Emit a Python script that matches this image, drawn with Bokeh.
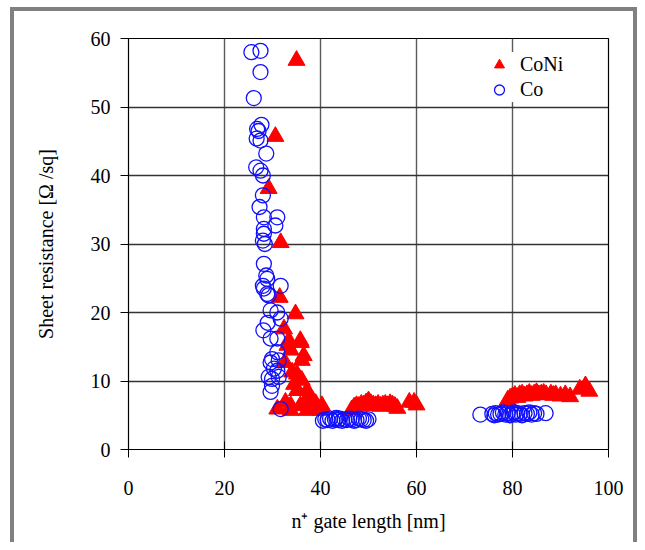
from bokeh.plotting import figure
from bokeh.models import ColumnDataSource, Legend, LegendItem, FixedTicker
from bokeh.embed import file_html
from bokeh.resources import INLINE

# CoNi (red filled triangles)
coni_x = [35.0, 30.6, 29.2, 31.7, 31.5, 34.8, 32.4, 33.4, 35.8, 33.8, 36.5, 32.6, 36.1,
          34.1, 35.1, 36.1, 37.2, 35.1, 37.9, 32.7, 33.8, 35.8, 39.0, 40.3, 31.0, 33.8,
          37.2, 40.0, 33.1, 35.9, 38.5, 34.5, 36.8,
          46.5, 47.0, 47.5, 48.0, 48.5, 49.0, 49.5, 50.0, 50.5, 51.0, 51.5, 52.0, 52.5,
          53.0, 53.5, 54.0, 54.5, 55.0, 55.5, 56.0, 58.5, 59.5, 60.0,
          79.0, 79.5, 80.0, 80.5, 81.0, 81.5, 82.0, 82.5, 83.0, 83.5, 84.0, 84.5, 85.0,
          85.5, 86.0, 86.5, 87.0, 88.0, 88.5, 89.0, 90.0, 91.0, 92.0, 94.0, 95.2, 96.0]
coni_y = [56.8, 45.7, 38.1, 30.2, 22.2, 19.8, 17.6, 15.9, 15.9, 14.5, 13.7, 12.7, 13.0,
          11.3, 11.0, 10.1, 8.6, 8.6, 7.6, 6.9, 6.4, 6.4, 6.7, 6.4, 5.9, 5.7,
          5.7, 5.7, 15.2, 15.6, 6.0, 9.5, 7.0,
          5.8, 6.2, 6.4, 6.3, 6.6, 6.5, 6.8, 7.1, 6.7, 6.5, 6.4, 6.6, 6.3,
          6.5, 6.6, 6.4, 6.7, 6.5, 6.3, 6.0, 6.9, 6.9, 6.5,
          7.2, 7.5, 7.7, 7.9, 7.6, 8.0, 8.1, 7.8, 8.0, 8.2, 7.9, 8.1, 8.3,
          8.0, 8.1, 8.2, 8.0, 8.1, 7.9, 8.0, 7.8, 8.0, 7.7, 8.8, 9.3, 8.5]

# Co (blue open circles)
co_x = [25.6, 27.5, 27.5, 26.1, 27.7, 26.8, 27.1, 26.7, 27.5, 28.7, 26.6, 27.5,
        28.0, 28.0, 27.3, 28.2, 31.0, 30.6, 28.2, 28.2, 28.0, 28.4, 28.2, 28.7,
        28.9, 28.0, 28.2, 31.7, 28.9, 29.2, 29.6, 31.0, 31.7, 29.6, 31.0, 31.0,
        29.9, 29.6, 31.3, 30.3, 31.0, 29.2, 29.9, 31.3, 29.9, 29.6, 31.7, 28.1, 29.0,
        40.5, 41.0, 41.5, 42.0, 42.5, 43.0, 43.3, 43.7, 44.0, 44.5, 45.0, 45.5, 46.0,
        46.5, 47.0, 47.5, 48.0, 48.5, 49.0, 49.5, 50.0,
        73.3, 75.8, 76.2, 76.5, 77.0, 77.5, 78.0, 78.5, 79.0, 79.5, 80.0, 80.3, 80.7,
        81.0, 81.5, 82.0, 82.5, 83.0, 83.5, 84.0, 84.5, 85.0, 86.9]
co_y = [58.0, 58.2, 55.1, 51.3, 47.4, 46.8, 46.5, 45.4, 45.1, 43.2, 41.2, 40.7,
        40.0, 37.1, 35.4, 33.9, 33.9, 32.7, 32.2, 31.5, 30.5, 30.0, 27.1, 25.4,
        24.9, 23.9, 23.5, 23.9, 22.7, 22.5, 20.3, 20.0, 19.1, 16.2, 16.2, 14.2,
        13.2, 12.7, 13.0, 11.8, 11.5, 10.6, 10.3, 10.6, 9.3, 8.4, 5.9, 17.4, 18.5,
        4.2, 4.4, 4.3, 4.5, 4.2, 4.4, 4.6, 4.3, 4.5, 4.2, 4.4, 4.3, 4.5,
        4.4, 4.2, 4.3, 4.5, 4.4, 4.3, 4.2, 4.4,
        5.1, 5.2, 5.0, 5.3, 5.1, 5.2, 5.4, 5.1, 5.3, 5.0, 5.2, 5.4, 5.1,
        5.3, 5.2, 5.0, 5.3, 5.2, 5.4, 5.1, 5.3, 5.2, 5.3]

x_ticks = [0, 20, 40, 60, 80, 100]
y_ticks = [0, 10, 20, 30, 40, 50, 60]

FONT = "Liberation Serif"

p = figure(width=637, height=542, x_range=(0, 100), y_range=(0, 60),
           output_backend="svg", toolbar_location=None,
           min_border_left=128, min_border_right=29, min_border_top=38, min_border_bottom=93)
p.border_fill_alpha = 0
p.background_fill_color = "white"
p.styles = {"box-shadow": ("inset 10px 7px 0 0 white, inset 14px 11px 0 0 #808080, "
                           "inset -4px 0 0 0 #808080"),
            "background-color": "white"}

p.outline_line_color = "black"
p.outline_line_width = 1.2

for ax in (p.xaxis[0], p.yaxis[0]):
    ax.axis_line_color = "black"
    ax.major_tick_line_color = "black"
    ax.minor_tick_line_color = None
    ax.major_label_text_font = FONT
    ax.major_label_text_font_size = "20px"
    ax.major_label_text_color = "black"
    ax.axis_label_text_font = FONT
    ax.axis_label_text_font_size = "20px"
    ax.axis_label_text_font_style = "normal"
    ax.axis_label_text_color = "black"

p.xaxis.ticker = FixedTicker(ticks=x_ticks)
p.yaxis.ticker = FixedTicker(ticks=y_ticks)
p.xaxis.major_tick_in = 8
p.xaxis.major_tick_out = 8
p.yaxis.major_tick_in = 0
p.yaxis.major_tick_out = 8
p.xaxis.major_label_standoff = 23
p.yaxis.major_label_standoff = 10
p.xaxis.axis_label = "n\u207a gate length [nm]"
p.yaxis.axis_label = "Sheet resistance [\u03a9 /sq]"
p.xaxis.axis_label_standoff = 12
p.yaxis.axis_label_standoff = 31

p.xgrid.ticker = FixedTicker(ticks=x_ticks)
p.ygrid.ticker = FixedTicker(ticks=y_ticks)
p.xgrid.grid_line_color = "#5a5a5a"
p.ygrid.grid_line_color = "#333333"
p.xgrid.grid_line_width = 1.4
p.ygrid.grid_line_width = 1.4

coni_src = ColumnDataSource(dict(x=coni_x, y=coni_y))
co_src = ColumnDataSource(dict(x=co_x, y=co_y))

r_coni = p.scatter("x", "y", source=coni_src, marker="triangle", size=17,
                   fill_color="#ff0000", line_color="#ff0000")
r_co = p.scatter("x", "y", source=co_src, marker="circle", size=15,
                 fill_color=None, line_color="#1010ff", line_width=1.3)

legend = Legend(items=[LegendItem(label="CoNi", renderers=[r_coni]),
                       LegendItem(label="Co", renderers=[r_co])],
                location=(358, 347))
legend.label_text_font = FONT
legend.label_text_font_size = "20px"
legend.label_text_color = "black"
legend.border_line_color = None
legend.background_fill_color = "white"
legend.background_fill_alpha = 1.0
legend.glyph_width = 26
legend.glyph_height = 25
legend.spacing = 0
legend.padding = 4
legend.label_standoff = 8
p.add_layout(legend)

open("out.html", "w").write(file_html(p, INLINE))
